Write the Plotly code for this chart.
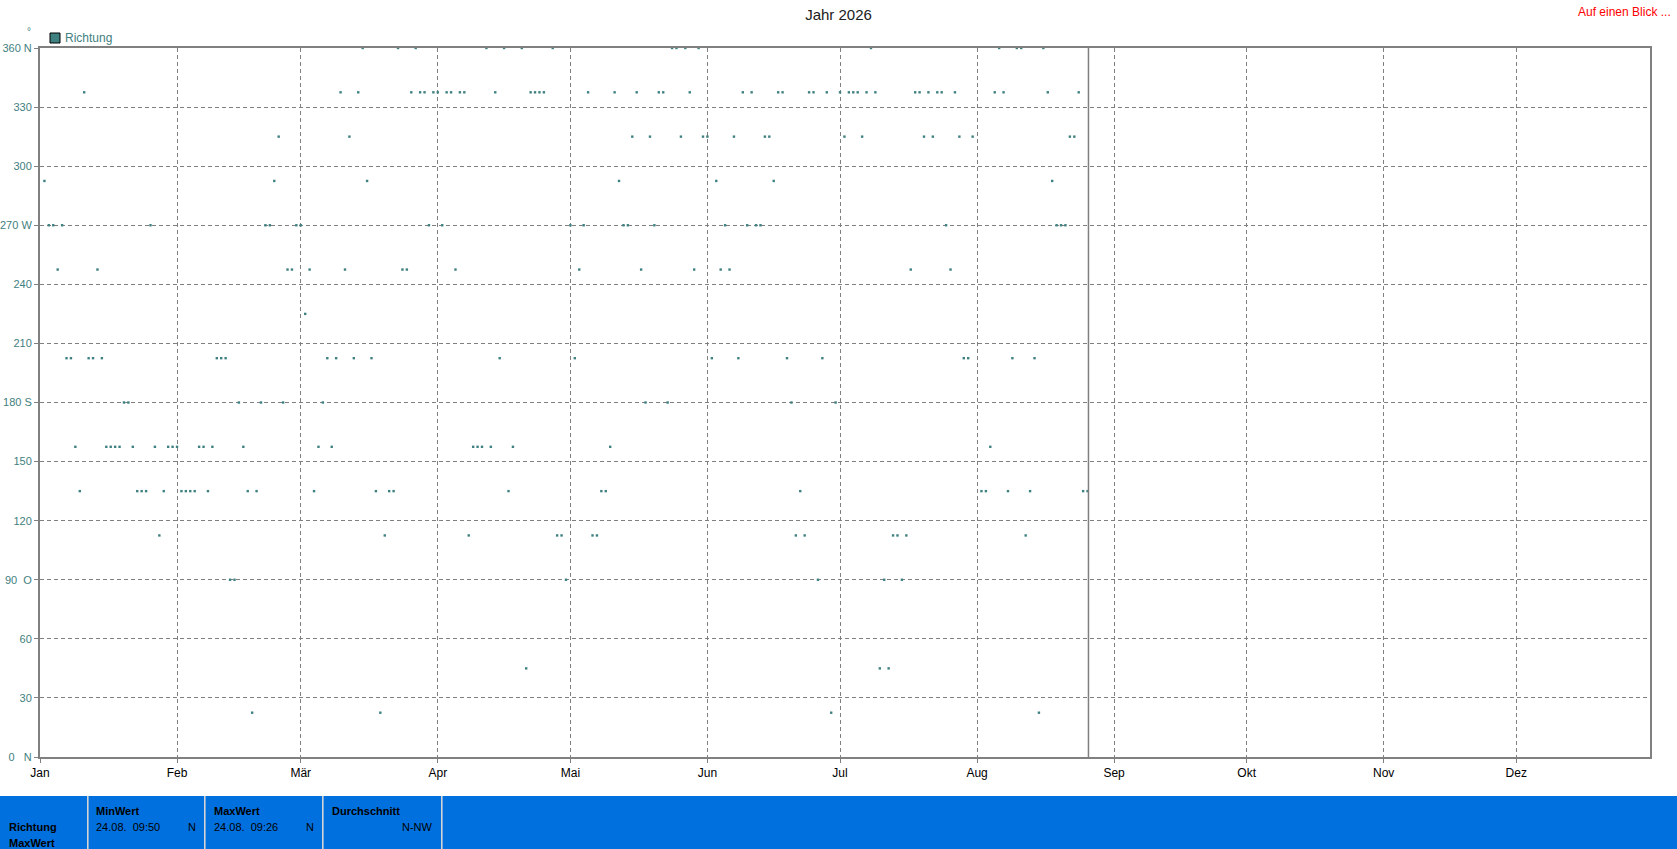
import pandas as pd
import plotly.graph_objects as go

# ---------------- data ----------------
year_start = "2026-01-01"
# day offset from 1 Jan 2026 and wind direction (degrees)
days = [1, 2, 3, 4, 5, 6, 7, 8, 9, 10, 11, 12, 13, 14, 15, 16, 17, 18, 19, 20,
        21, 22, 23, 24, 25, 26, 27, 28, 29, 30, 31, 32, 33, 34, 35, 36, 37, 38, 39, 40,
        41, 42, 43, 44, 45, 46, 47, 48, 49, 50, 51, 52, 53, 54, 55, 56, 57, 58, 59, 60,
        61, 62, 63, 64, 65, 66, 67, 68, 69, 70, 71, 72, 73, 74, 75, 76, 77, 78, 79, 80,
        81, 82, 83, 84, 85, 86, 87, 88, 89, 90, 91, 92, 93, 94, 95, 96, 97, 98, 99, 100,
        101, 102, 103, 104, 105, 106, 107, 109, 110, 111, 112, 113, 114, 116, 117, 118, 119, 120,
        121, 122, 123, 124, 125, 126, 127, 128, 129, 130, 131, 132, 133, 134, 135, 136, 137, 138, 139, 140,
        141, 142, 143, 144, 145, 146, 147, 148, 149, 150, 151, 152, 153, 154, 155, 156, 157, 158, 159, 160,
        161, 162, 163, 164, 165, 166, 167, 168, 169, 170, 171, 172, 173, 174, 175, 176, 177, 178, 179, 180,
        181, 182, 183, 184, 185, 186, 187, 188, 189, 190, 191, 192, 193, 194, 195, 196, 197, 198, 199, 200,
        201, 202, 203, 204, 205, 206, 207, 208, 209, 210, 211, 213, 214, 215, 216, 217, 218, 219, 220,
        221, 222, 223, 224, 225, 226, 227, 228, 229, 230, 231, 232, 233, 234, 235, 236, 237]
richtung = [292.5, 270, 270, 247.5, 270, 202.5, 202.5, 157.5, 135, 337.5,
            202.5, 202.5, 247.5, 202.5, 157.5, 157.5, 157.5, 157.5, 180, 180,
            157.5, 135, 135, 135, 270, 157.5, 112.5, 135, 157.5, 157.5,
            157.5, 135, 135, 135, 135, 157.5, 157.5, 135, 157.5, 202.5,
            202.5, 202.5, 90, 90, 180, 157.5, 135, 22.5, 135, 180,
            270, 270, 292.5, 315, 180, 247.5, 247.5, 270, 270, 225,
            247.5, 135, 157.5, 180, 202.5, 157.5, 202.5, 337.5, 247.5, 315,
            202.5, 337.5, 360, 292.5, 202.5, 135, 22.5, 112.5, 135, 135,
            360, 247.5, 247.5, 337.5, 360, 337.5, 337.5, 270, 337.5, 337.5,
            270, 337.5, 337.5, 247.5, 337.5, 337.5, 112.5, 157.5, 157.5, 157.5,
            360, 157.5, 337.5, 202.5, 360, 135, 157.5, 360, 45, 337.5,
            337.5, 337.5, 337.5, 360, 112.5, 112.5, 90, 270,
            202.5, 247.5, 270, 337.5, 112.5, 112.5, 135, 135, 157.5, 337.5,
            292.5, 270, 270, 315, 337.5, 247.5, 180, 315, 270, 337.5,
            337.5, 180, 360, 360, 315, 360, 337.5, 247.5, 360, 315,
            315, 202.5, 292.5, 247.5, 270, 247.5, 315, 202.5, 337.5, 270,
            337.5, 270, 270, 315, 315, 292.5, 337.5, 337.5, 202.5, 180,
            112.5, 135, 112.5, 337.5, 337.5, 90, 202.5, 337.5, 22.5, 180,
            337.5, 315, 337.5, 337.5, 337.5, 315, 337.5, 360, 337.5, 45,
            90, 45, 112.5, 112.5, 90, 112.5, 247.5, 337.5, 337.5, 315,
            337.5, 315, 337.5, 337.5, 270, 247.5, 337.5, 315, 202.5, 202.5,
            315, 135, 135, 157.5, 337.5, 360, 337.5, 135, 202.5,
            360, 360, 112.5, 135, 202.5, 22.5, 360, 337.5, 292.5, 270,
            270, 270, 315, 315, 337.5, 135, 135]

now_time = "2026-08-26 05:00"
x_end = "2026-12-31 06:00"

month_ticks = ["2026-01-01", "2026-02-01", "2026-03-01", "2026-04-01", "2026-05-01", "2026-06-01",
               "2026-07-01", "2026-08-01", "2026-09-01", "2026-10-01", "2026-11-01", "2026-12-01"]
month_labels = ["Jan", "Feb", "Mär", "Apr", "Mai", "Jun", "Jul", "Aug", "Sep", "Okt", "Nov", "Dez"]

y_ticks = [0, 30, 60, 90, 120, 150, 180, 210, 240, 270, 300, 330, 360]
y_labels = ["0\u00a0\u00a0\u00a0N", "30", "60", "90\u00a0\u00a0O", "120", "150", "180 S",
            "210", "240", "270 W", "300", "330", "360 N"]

title_text = "Jahr 2026"
series_name = "Richtung"
summary_row = ["Richtung", "MaxWert"]
summary_min = ["MinWert", "24.08.  09:50", "N"]
summary_max = ["MaxWert", "24.08.  09:26", "N"]
summary_avg = ["Durchschnitt", "N-NW"]

# ---------------- styling ----------------
TEAL = "#3f8080"
GRAY = "#808080"
BLUE = "#0070df"
FONT = "Liberation Sans"
W, H = 1677, 849
PL, PR, PT, PB = 40, 1650, 48, 757


def px(x):
    return (x - PL) / (PR - PL)


def py(y):
    return (PB - y) / (PB - PT)


dates = pd.Timestamp(year_start) + pd.to_timedelta(days, unit="D")

fig = go.Figure()
fig.add_trace(go.Scatter(
    x=dates, y=richtung, mode="markers", name=series_name,
    marker=dict(symbol="square", size=2.4, color=TEAL, line=dict(width=0)),
    cliponaxis=True, showlegend=False,
))

axis_common = dict(
    showgrid=True, gridcolor=GRAY, gridwidth=1, griddash="4px,3px",
    showline=True, linecolor=GRAY, linewidth=2, mirror=True,
    ticks="outside", ticklen=4, tickcolor=GRAY, tickwidth=1, zeroline=False,
    automargin=False,
)

fig.update_layout(
    width=W, height=H,
    margin=dict(l=PL, r=W - PR, t=PT, b=H - PB, pad=0, autoexpand=False),
    paper_bgcolor="white", plot_bgcolor="white",
    font=dict(family=FONT, size=11, color="black"),
    title=dict(text=title_text, x=0.5, xref="container", xanchor="center",
               y=1 - 15 / H, yref="container", yanchor="middle",
               font=dict(family=FONT, size=15, color="#202020")),
    xaxis=dict(type="date", range=[year_start, x_end], tickmode="array",
               tickvals=month_ticks, ticktext=month_labels,
               tickfont=dict(family=FONT, size=12, color="black"), **axis_common),
    yaxis=dict(range=[0, 360], tickmode="array", tickvals=y_ticks, ticktext=y_labels,
               tickfont=dict(family=FONT, size=11, color=TEAL), **axis_common),
    showlegend=False,
)

shapes = []
# current-time marker
shapes.append(dict(type="line", xref="x", yref="paper", x0=now_time, x1=now_time, y0=0, y1=1,
                   line=dict(color=GRAY, width=1.5)))
# legend swatch
shapes.append(dict(type="rect", xref="paper", yref="paper", x0=px(50), x1=px(60), y0=py(43), y1=py(33),
                   fillcolor=TEAL, line=dict(color="black", width=1)))
# summary band
shapes.append(dict(type="rect", xref="paper", yref="paper", x0=px(0), x1=px(W), y0=py(H + 2), y1=py(796),
                   fillcolor=BLUE, line=dict(width=0)))
for sx in [87.8, 204.8, 322.8, 441.8]:
    shapes.append(dict(type="line", xref="paper", yref="paper", x0=px(sx), x1=px(sx), y0=py(H + 2), y1=py(796),
                       line=dict(color="#d4d4d4", width=1.6)))
fig.update_layout(shapes=shapes)

ann = []


def add_text(text, x, y, anchor="left", color="black", size=11, bold=False):
    t = "<b>%s</b>" % text if bold else text
    ann.append(dict(text=t, x=px(x), y=py(y), xref="paper", yref="paper", xanchor=anchor,
                    yanchor="middle", showarrow=False,
                    font=dict(family=FONT, size=size, color=color)))


add_text("Auf einen Blick ...", 1673, 12, anchor="right", color="red", size=12)
add_text("°", 29, 31, anchor="center", color=TEAL, size=10)
add_text(series_name, 63, 38, color=TEAL, size=12)

add_text(summary_row[0], 7, 827, bold=True)
add_text(summary_row[1], 7, 843, bold=True)
add_text(summary_min[0], 94, 811, bold=True)
add_text(summary_min[1].replace("  ", "\u00a0\u00a0"), 94, 827)
add_text(summary_min[2], 198, 827, anchor="right")
add_text(summary_max[0], 212, 811, bold=True)
add_text(summary_max[1].replace("  ", "\u00a0\u00a0"), 212, 827)
add_text(summary_max[2], 316, 827, anchor="right")
add_text(summary_avg[0], 330, 811, bold=True)
add_text(summary_avg[1], 435, 827, anchor="right")

fig.update_layout(annotations=ann)

fig.write_html("out.html",
               config={"displayModeBar": False},
               post_script="document.body.style.margin='0';document.body.style.overflow='hidden';")
